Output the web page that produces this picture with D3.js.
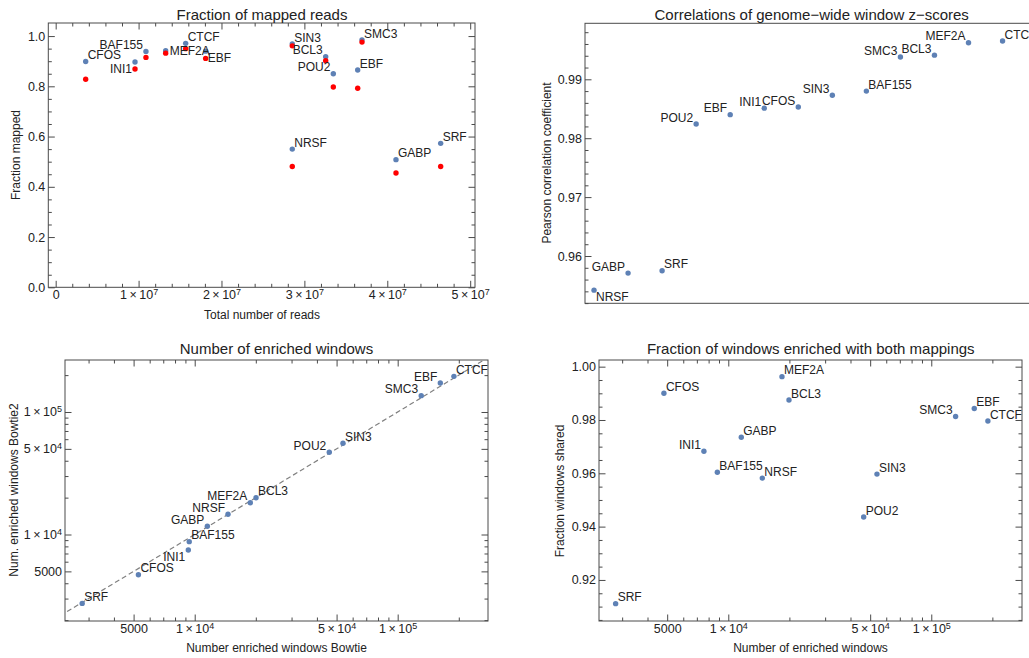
<!DOCTYPE html>
<html>
<head>
<meta charset="utf-8">
<script src="https://cdn.jsdelivr.net/npm/d3@7"></script>
<style>
  body { margin: 0; background: #fff; }
  svg { display: block; font-family: "Liberation Sans", Arial, sans-serif; }
</style>
</head>
<body>
<div id="chart"></div>
<script>
// ---- data: fraction of mapped reads (top left)
const readNames = ['CFOS', 'INI1', 'BAF155', 'MEF2A', 'CTCF', 'EBF', 'SIN3', 'BCL3', 'POU2', 'EBF', 'SMC3', 'NRSF', 'GABP', 'SRF'];
const totalReads = [3.62e6, 9.57e6, 1.089e7, 1.327e7, 1.568e7, 1.809e7, 2.854e7, 3.257e7, 3.349e7, 3.643e7, 3.695e7, 2.854e7, 4.105e7, 4.644e7];
const mappedBlue = [0.899, 0.897, 0.939, 0.942, 0.971, 0.940, 0.969, 0.918, 0.850, 0.865, 0.985, 0.550, 0.508, 0.573];
const mappedRed = [0.828, 0.869, 0.915, 0.932, 0.950, 0.911, 0.961, 0.902, 0.797, 0.792, 0.976, 0.481, 0.455, 0.481];
const readXTicks = [0, 1e7, 2e7, 3e7, 4e7, 5e7];
const readYTicks = [0, 0.2, 0.4, 0.6, 0.8, 1.0];

// ---- data: correlations of z-scores (top right), ordered by rank
const corrNames = ['NRSF', 'GABP', 'SRF', 'POU2', 'EBF', 'INI1', 'CFOS', 'SIN3', 'BAF155', 'SMC3', 'BCL3', 'MEF2A', 'CTCF'];
const pearson = [0.9542, 0.9571, 0.9575, 0.9824, 0.9840, 0.9851, 0.9853, 0.9873, 0.9880, 0.9938, 0.9941, 0.9962, 0.9965];
const corrYTicks = [0.96, 0.97, 0.98, 0.99];

// ---- data: enriched windows (bottom row)
const winNames = ['SRF', 'CFOS', 'INI1', 'BAF155', 'GABP', 'NRSF', 'MEF2A', 'BCL3', 'POU2', 'SIN3', 'SMC3', 'EBF', 'CTCF'];
const winBowtie = [2790, 5280, 9300, 9400, 11540, 14590, 18790, 20050, 46030, 53770, 130600, 162200, 189300];
const winBowtie2 = [2740, 4700, 7470, 8740, 11670, 14620, 18180, 19950, 46880, 55540, 135900, 172600, 195400];
const winEnriched = [2786, 4819, 7586, 8831, 11590, 14710, 18390, 19910, 46450, 54010, 131800, 162900, 190100];
const fracShared = [0.9111, 0.9900, 0.9683, 0.9604, 0.9735, 0.9582, 0.99625, 0.9875, 0.9436, 0.9597, 0.9813, 0.9843, 0.9796];
const logTicks = [5000, 1e4, 5e4, 1e5];
const sharedYTicks = [0.92, 0.94, 0.96, 0.98, 1.00];

// ---- look
const blue = '#5E81B5';
const red = '#FF0000';
const frameColor = '#4a4a4a';
const textColor = '#222';
const r = 2.7;
const off = { ne: [2, -6.5, 'start'], nw: [-3, -6.5, 'end'], se: [2, 6.5, 'start'], sw: [-3, 6.5, 'end'], e: [4, 0, 'start'] };

const readSides = ['ne', 'sw', 'nw', 'e', 'ne', 'se', 'ne', 'nw', 'nw', 'ne', 'ne', 'ne', 'ne', 'ne'];
const corrSides = ['se', 'nw', 'ne', 'nw', 'nw', 'nw', 'nw', 'nw', 'ne', 'nw', 'nw', 'nw', 'ne'];
const winSides = ['ne', 'ne', 'sw', 'ne', 'nw', 'nw', 'nw', 'ne', 'nw', 'ne', 'nw', 'nw', 'ne'];
const sharedSides = ['ne', 'ne', 'nw', 'ne', 'ne', 'ne', 'ne', 'ne', 'ne', 'ne', 'nw', 'ne', 'ne'];

const svg = d3.select('#chart').append('svg').attr('width', 1029).attr('height', 658);

// label like 1×10^7
function sciText(sel) {
  sel.each(function(d) {
    if (d < 1e4) return;
    const e = Math.floor(Math.log10(d) + 1e-9);
    const m = Math.round(d / Math.pow(10, e));
    const t = d3.select(this).text(null);
    t.append('tspan').text(m + '\u2009×\u200910');
    t.append('tspan').attr('dy', '-0.45em').style('font-size', '0.72em').text(e);
  });
}

function frame(box) {
  svg.append('rect')
     .attr('x', box.x0).attr('y', box.y0)
     .attr('width', box.x1 - box.x0).attr('height', box.y1 - box.y0)
     .attr('fill', 'none').attr('stroke', frameColor).attr('stroke-width', 1);
}

function ticks(axisFn, scale, transform, values, size, format) {
  const ax = axisFn(scale).tickValues(values).tickSizeInner(-size).tickSizeOuter(0)
                          .tickPadding(3).tickFormat(format || (() => ''));
  const g = svg.append('g').attr('transform', transform).call(ax)
               .attr('font-family', null).attr('font-size', 12.5);
  g.select('.domain').remove();
  g.selectAll('line').attr('stroke', frameColor);
  g.selectAll('text').attr('fill', textColor);
  return g;
}

function title(text, x, y, size) {
  svg.append('text').attr('x', x).attr('y', y).attr('dy', '0.35em')
     .attr('text-anchor', 'middle').style('font-size', size + 'px')
     .attr('fill', textColor).text(text);
}

function yTitle(text, x, y) {
  svg.append('text').attr('transform', `translate(${x},${y}) rotate(-90)`).attr('dy', '0.35em')
     .attr('text-anchor', 'middle').style('font-size', '12px')
     .attr('fill', textColor).text(text);
}

function dots(xs, ys, sx, sy, color) {
  svg.append('g').selectAll('circle').data(xs).join('circle')
     .attr('cx', (d, i) => sx(xs[i])).attr('cy', (d, i) => sy(ys[i]))
     .attr('r', r).attr('fill', color);
}

function labels(names, xs, ys, sides, sx, sy) {
  svg.append('g').selectAll('text').data(names).join('text')
     .attr('x', (d, i) => sx(xs[i]) + off[sides[i]][0])
     .attr('y', (d, i) => sy(ys[i]) + off[sides[i]][1])
     .attr('dy', '0.35em')
     .attr('text-anchor', (d, i) => off[sides[i]][2])
     .style('font-size', '12px').attr('fill', textColor)
     .text(d => d);
}

// ---------- panel 1: Fraction of mapped reads
{
  const b = { x0: 48.3, x1: 475, y0: 23, y1: 287.3 };
  const x = d3.scaleLinear().domain([-8.9e5, 5.058e7]).range([b.x0, b.x1]);
  const y = d3.scaleLinear().domain([0, 1.052]).range([b.y1, b.y0]);
  const xMinor = d3.range(0, 5.1e7, 2e6).filter(v => v % 1e7 !== 0);
  const yMinor = d3.range(0, 21).map(i => i * 0.05).filter((v, i) => i % 4 !== 0);

  frame(b);
  ticks(d3.axisBottom, x, `translate(0,${b.y1})`, readXTicks, 6.5, d3.format('d')).selectAll('text').call(sciText);
  ticks(d3.axisBottom, x, `translate(0,${b.y1})`, xMinor, 3.5);
  ticks(d3.axisTop, x, `translate(0,${b.y0})`, readXTicks, 6.5);
  ticks(d3.axisTop, x, `translate(0,${b.y0})`, xMinor, 3.5);
  ticks(d3.axisLeft, y, `translate(${b.x0},0)`, readYTicks, 6.5, d3.format('.1f'));
  ticks(d3.axisLeft, y, `translate(${b.x0},0)`, yMinor, 3.5);
  ticks(d3.axisRight, y, `translate(${b.x1},0)`, readYTicks, 6.5);
  ticks(d3.axisRight, y, `translate(${b.x1},0)`, yMinor, 3.5);

  dots(totalReads, mappedBlue, x, y, blue);
  dots(totalReads, mappedRed, x, y, red);
  labels(readNames, totalReads, mappedBlue, readSides, x, y);

  title('Fraction of mapped reads', 262, 14.5, 15);
  title('Total number of reads', 262, 315, 12);
  yTitle('Fraction mapped', 16, 155);
}

// ---------- panel 2: Correlations of genome-wide window z-scores
{
  const b = { x0: 585, x1: 1040, y0: 23.3, y1: 303.3 };
  const ranks = corrNames.map((d, i) => i + 1);
  const x = d3.scaleLinear().domain([0.735, 14.1]).range([b.x0, b.x1]);
  const y = d3.scaleLinear().domain([0.95197, 0.99951]).range([b.y1, b.y0]);
  const yMinor = d3.range(476, 500).map(i => i * 0.002).filter((v, i) => (i + 476) % 5 !== 0);

  frame(b);
  ticks(d3.axisLeft, y, `translate(${b.x0},0)`, corrYTicks, 6.5, d3.format('.2f'));
  ticks(d3.axisLeft, y, `translate(${b.x0},0)`, yMinor, 3.5);

  dots(ranks, pearson, x, y, blue);
  labels(corrNames, ranks, pearson, corrSides, x, y);

  title('Correlations of genome\u2212wide window z\u2212scores', 811.7, 14.5, 15);
  yTitle('Pearson correlation coefficient', 546.7, 163);
}

// ---------- panel 3: Number of enriched windows (log-log)
{
  const b = { x0: 65, x1: 488, y0: 360, y1: 621 };
  const x = d3.scaleLog().domain([2296, 278600]).range([b.x0, b.x1]);
  const y = d3.scaleLog().domain([1968, 265700]).range([b.y1, b.y0]);
  const xMinor = x.ticks().filter(v => !logTicks.includes(v));
  const yMinor = y.ticks().filter(v => !logTicks.includes(v));
  const fmt = d3.format('d');

  frame(b);
  ticks(d3.axisBottom, x, `translate(0,${b.y1})`, logTicks, 6.5, fmt).selectAll('text').call(sciText);
  ticks(d3.axisBottom, x, `translate(0,${b.y1})`, xMinor, 3.5);
  ticks(d3.axisTop, x, `translate(0,${b.y0})`, logTicks, 6.5);
  ticks(d3.axisTop, x, `translate(0,${b.y0})`, xMinor, 3.5);
  ticks(d3.axisLeft, y, `translate(${b.x0},0)`, logTicks, 6.5, fmt).selectAll('text').call(sciText);
  ticks(d3.axisLeft, y, `translate(${b.x0},0)`, yMinor, 3.5);
  ticks(d3.axisRight, y, `translate(${b.x1},0)`, logTicks, 6.5);
  ticks(d3.axisRight, y, `translate(${b.x1},0)`, yMinor, 3.5);

  // y = x reference line, clipped to the frame
  svg.append('clipPath').attr('id', 'clip3').append('rect')
     .attr('x', b.x0).attr('y', b.y0).attr('width', b.x1 - b.x0).attr('height', b.y1 - b.y0);
  const diag = [1000, 1e6];
  svg.append('path')
     .attr('clip-path', 'url(#clip3)')
     .attr('d', d3.line().x(d => x(d)).y(d => y(d))(diag))
     .attr('fill', 'none').attr('stroke', '#808080').attr('stroke-width', 1.2)
     .attr('stroke-dasharray', '5,3');

  dots(winBowtie, winBowtie2, x, y, blue);
  labels(winNames, winBowtie, winBowtie2, winSides, x, y);

  title('Number of enriched windows', 276.5, 349, 15);
  title('Number enriched windows Bowtie', 276.5, 648, 12);
  yTitle('Num. enriched windows Bowtie2', 13.5, 490);
}

// ---------- panel 4: Fraction of windows enriched with both mappings
{
  const b = { x0: 599, x1: 1022, y0: 360, y1: 621 };
  const x = d3.scaleLog().domain([2307, 279900]).range([b.x0, b.x1]);
  const y = d3.scaleLinear().domain([0.9046, 1.0025]).range([b.y1, b.y0]);
  const xMinor = x.ticks().filter(v => !logTicks.includes(v));
  const yMinor = d3.range(181, 201).map(i => i * 0.005).filter((v, i) => (i + 181) % 4 !== 0);

  frame(b);
  ticks(d3.axisBottom, x, `translate(0,${b.y1})`, logTicks, 6.5, d3.format('d')).selectAll('text').call(sciText);
  ticks(d3.axisBottom, x, `translate(0,${b.y1})`, xMinor, 3.5);
  ticks(d3.axisTop, x, `translate(0,${b.y0})`, logTicks, 6.5);
  ticks(d3.axisTop, x, `translate(0,${b.y0})`, xMinor, 3.5);
  ticks(d3.axisLeft, y, `translate(${b.x0},0)`, sharedYTicks, 6.5, d3.format('.2f'));
  ticks(d3.axisLeft, y, `translate(${b.x0},0)`, yMinor, 3.5);
  ticks(d3.axisRight, y, `translate(${b.x1},0)`, sharedYTicks, 6.5);
  ticks(d3.axisRight, y, `translate(${b.x1},0)`, yMinor, 3.5);

  dots(winEnriched, fracShared, x, y, blue);
  labels(winNames, winEnriched, fracShared, sharedSides, x, y);

  title('Fraction of windows enriched with both mappings', 810.8, 349, 15);
  title('Number of enriched windows', 810.5, 648, 12);
  yTitle('Fraction windows shared', 560, 491);
}
</script>
</body>
</html>
